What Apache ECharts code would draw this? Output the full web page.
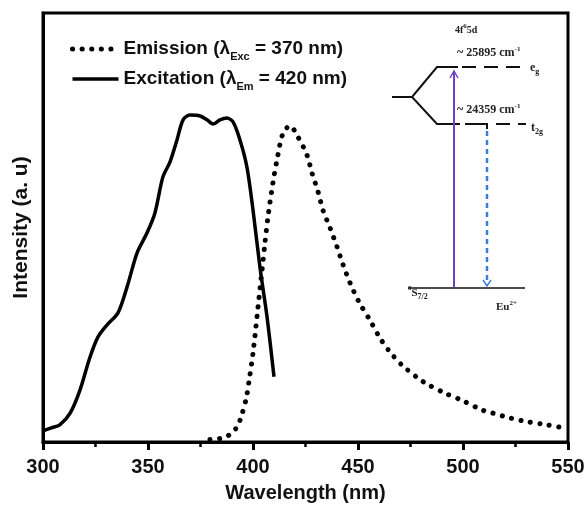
<!DOCTYPE html>
<html>
<head>
<meta charset="utf-8">
<script src="https://cdn.jsdelivr.net/npm/echarts@6/dist/echarts.min.js"></script>
<style>
html, body { margin: 0; padding: 0; background: #fff; }
#chart { width: 587px; height: 505px; }
</style>
</head>
<body>
<div id="chart"></div>
<script>
// excitation spectrum (lambda_Em = 420 nm), intensity normalised to axis height
const excitationWl = [300, 304, 308, 313, 317.6, 322.4, 326.2, 330.5, 335.7, 340, 344.8, 349.5, 353.3, 357.1, 360.5,
    363.8, 366.7, 370, 374.8, 378.1, 381, 384.3, 387.6, 390.5, 393.8, 397.1, 400, 403.3, 406.7, 410];
const excitationInt = [0.026, 0.033, 0.040, 0.068, 0.121, 0.198, 0.245, 0.273, 0.301, 0.361, 0.441, 0.487, 0.534, 0.618, 0.653,
    0.704, 0.751, 0.762, 0.760, 0.751, 0.741, 0.751, 0.755, 0.746, 0.704, 0.641, 0.541, 0.408, 0.291, 0.152];

// emission spectrum (lambda_Exc = 370 nm)
const emissionWl = [379.5, 384.3, 388.6, 392.4, 394.3, 396.7, 398.1, 400, 402.4, 404.3, 405.7, 407.1, 409.5, 411.4, 414.3,
    417.6, 421.4, 425.7, 428.1, 431, 433.3, 436.7, 440, 442.9, 446.2, 450.5, 455.7, 460.5, 465.2, 471,
    478.6, 482.9, 491.4, 500, 508.9, 513.7, 522.4, 531, 540, 550];
const emissionInt = [0.006, 0.008, 0.016, 0.035, 0.058, 0.100, 0.142, 0.207, 0.315, 0.401, 0.464, 0.524, 0.604, 0.657, 0.720,
    0.737, 0.711, 0.669, 0.627, 0.583, 0.541, 0.499, 0.455, 0.413, 0.371, 0.326, 0.284, 0.242, 0.210, 0.179,
    0.149, 0.135, 0.114, 0.096, 0.075, 0.068, 0.056, 0.047, 0.040, 0.031];

const legendLabels = {
    Emission: 'Emission (λ{s|Exc} = 370 nm)',
    Excitation: 'Excitation (λ{s|Em} = 420 nm)'
};

function zip(xs, ys) {
    return xs.map(function(x, i) { return [x, ys[i]]; });
}

const font = 'Liberation Sans, Arial, sans-serif';
const serif = 'Liberation Serif, Times New Roman, serif';

const dotted = { color: '#000', width: 5, type: [0.1, 9.5], cap: 'round' };
const solid = { color: '#000', width: 3.5, type: 'solid' };

const chart = echarts.init(document.getElementById('chart'));

const insetText = { fontFamily: serif, fontWeight: 'bold', fill: '#222', textVerticalAlign: 'middle' };
const rich = {
    sup: { fontFamily: serif, fontWeight: 'bold', fontSize: 7, verticalAlign: 'top', lineHeight: 14 },
    sub: { fontFamily: serif, fontWeight: 'bold', fontSize: 8, verticalAlign: 'bottom', lineHeight: 16 }
};

function label(x, y, text, size) {
    return {
        type: 'text', x: x, y: y, z: 20,
        style: Object.assign({}, insetText, { text: text, fontSize: size, lineHeight: 14, rich: rich })
    };
}
function seg(points, color, width, dash) {
    return {
        type: 'polyline', z: 20,
        shape: { points: points },
        style: { stroke: color, lineWidth: width, lineDash: dash || null, fill: null }
    };
}

const option = {
    backgroundColor: '#fff',
    animation: false,
    grid: {
        left: 43, right: 19, top: 13, bottom: 63,
        show: true, borderColor: '#000', borderWidth: 3,
        outerBoundsMode: 'none'
    },
    legend: {
        data: [
            { name: 'Emission', lineStyle: dotted },
            { name: 'Excitation', lineStyle: solid }
        ],
        orient: 'vertical',
        left: 65, top: 31,
        itemWidth: 46, itemHeight: 12, itemGap: 4,
        itemStyle: { opacity: 0 },
        formatter: function(name) { return legendLabels[name]; },
        textStyle: {
            fontFamily: font, fontWeight: 'bold', fontSize: 19, color: '#111', lineHeight: 22,
            rich: {
                s: { fontFamily: font, fontWeight: 'bold', fontSize: 11, color: '#111', verticalAlign: 'bottom', lineHeight: 26 }
            }
        }
    },
    xAxis: {
        type: 'value',
        min: 300, max: 550, interval: 50,
        name: 'Wavelength (nm)',
        nameLocation: 'middle',
        nameGap: 41,
        nameTextStyle: { fontFamily: font, fontWeight: 'bold', fontSize: 20, color: '#111' },
        axisLine: { lineStyle: { color: '#000', width: 3 } },
        axisTick: { inside: false, length: 8, lineStyle: { color: '#000', width: 3 } },
        minorTick: { show: true, splitNumber: 2, length: 5, lineStyle: { color: '#000', width: 2.5 } },
        axisLabel: { margin: 15, fontFamily: font, fontWeight: 'bold', fontSize: 20, color: '#111' },
        splitLine: { show: false }
    },
    yAxis: {
        type: 'value',
        min: 0, max: 1,
        name: 'Intensity (a. u)',
        nameLocation: 'middle',
        nameGap: 11,
        nameTextStyle: { fontFamily: font, fontWeight: 'bold', fontSize: 21, color: '#111' },
        axisLine: { lineStyle: { color: '#000', width: 3 } },
        axisTick: { show: false },
        axisLabel: { show: false },
        splitLine: { show: false }
    },
    series: [
        {
            name: 'Emission',
            type: 'line',
            smooth: 0.3,
            symbol: 'none',
            data: zip(emissionWl, emissionInt),
            lineStyle: dotted,
            itemStyle: { color: '#000' }
        },
        {
            name: 'Excitation',
            type: 'line',
            smooth: 0.3,
            symbol: 'none',
            data: zip(excitationWl, excitationInt),
            lineStyle: solid,
            itemStyle: { color: '#000' }
        }
    ],
    // energy level scheme of Eu2+ (schematic inset)
    graphic: [
        seg([[392, 97], [412, 97]], '#111', 2),
        seg([[458, 67], [437, 67], [412, 97], [437, 124], [460, 124]], '#111', 2),
        seg([[462, 67], [526, 67]], '#111', 2, [14, 8]),
        seg([[465, 124], [487, 124], [487, 129]], '#111', 2),
        seg([[496, 124], [526, 124]], '#111', 2, [14, 8]),
        seg([[408, 288], [525, 288]], '#111', 1.5),
        seg([[454, 287], [454, 71]], '#6b40c4', 2),
        seg([[450, 78], [454, 71], [458, 78]], '#6b40c4', 1.5),
        seg([[487, 131], [487, 285]], '#3b7dd8', 2.5, [5, 4]),
        seg([[483, 280], [487, 286], [491, 280]], '#3b7dd8', 1.5),
        label(455, 30, '4f{sup|6}5d', 10),
        label(457, 53, '~ 25895 cm{sup|-1}', 12),
        label(530, 68, 'e{sub|g}', 12),
        label(457, 110, '~ 24359 cm{sup|-1}', 12),
        label(531, 128, 't{sub|2g}', 12),
        label(408, 293, '{sup|8}S{sub|7/2}', 11),
        label(496, 307, 'Eu{sup|2+}', 11)
    ]
};

chart.setOption(option);
</script>
</body>
</html>
